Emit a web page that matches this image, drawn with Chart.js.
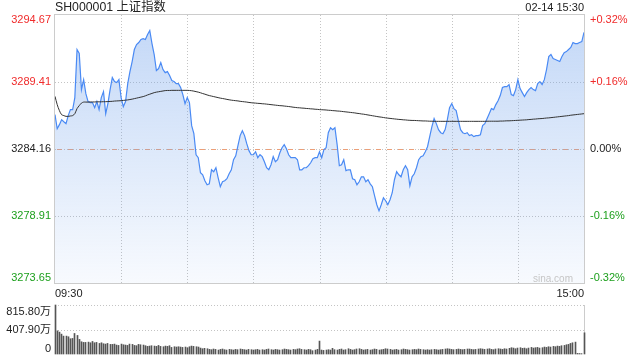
<!DOCTYPE html>
<html><head><meta charset="utf-8">
<script src="https://cdn.jsdelivr.net/npm/chart.js@4.4.1/dist/chart.umd.min.js"></script>
<style>
html,body{margin:0;padding:0;background:#fff;}
#wrap{position:relative;width:640px;height:360px;overflow:hidden;font-family:"Liberation Sans",Arial,"Noto Sans CJK SC",sans-serif;}
#title{position:absolute;left:55px;top:0px;font-size:12.3px;line-height:15px;color:#222;white-space:nowrap;}
#date{position:absolute;right:56px;top:1px;font-size:11px;line-height:13px;color:#222;white-space:nowrap;}
#c1{position:absolute;left:0;top:0;}
#c2{position:absolute;left:0;top:296px;}
</style></head><body>
<div id="wrap">
<canvas id="c1" width="640" height="300"></canvas>
<canvas id="c2" width="640" height="64"></canvas>
<div id="title">SH000001 上证指数</div>
<div id="date">02-14 15:30</div>
</div>
<script>
const priceTicks = [3294.67, 3289.41, 3284.16, 3278.91, 3273.65];
const pctLabels = ['+0.32%', '+0.16%', '0.00%', '-0.16%', '-0.32%'];
const xTickLabels = ['09:30', '15:00'];
const volTicks = [815.80, 407.90, 0];
const volLabels = ['815.80万', '407.90万', '0'];

const price = [
3286.85,3285.75,3286.07,3286.46,3286.30,3286.15,3286.78,3287.25,3287.25,3288.19,
3291.96,3291.65,3288.82,3289.60,3288.50,3287.88,3287.80,3287.80,3287.40,3287.88,
3287.25,3288.19,3288.66,3286.93,3287.72,3288.82,3289.76,3289.45,3289.37,3289.60,
3288.19,3287.48,3287.88,3289.29,3290.23,3291.02,3291.96,3292.35,3292.51,3292.75,
3292.82,3292.75,3293.14,3293.45,3292.43,3291.57,3290.31,3290.47,3290.94,3290.39,
3290.15,3290.23,3289.92,3289.53,3289.45,3289.29,3289.29,3288.98,3288.43,3287.72,
3288.19,3287.80,3285.99,3285.36,3283.71,3283.48,3282.30,3282.14,3281.67,3281.36,
3281.43,3282.53,3282.38,3282.69,3281.91,3281.20,3281.59,3281.67,3281.83,3282.22,
3282.53,3283.32,3283.63,3284.42,3285.21,3285.60,3285.21,3284.58,3284.03,3283.71,
3283.71,3283.95,3283.48,3283.71,3283.56,3283.16,3282.69,3282.53,3282.93,3283.56,
3283.16,3283.32,3283.87,3284.26,3284.50,3284.18,3283.71,3283.48,3283.48,3283.48,
3283.32,3282.53,3282.53,3282.69,3282.69,3282.85,3283.08,3283.40,3283.48,3283.48,
3283.95,3283.48,3284.11,3284.26,3285.44,3285.83,3285.68,3285.83,3284.50,3282.85,
3282.93,3283.32,3282.46,3282.53,3282.53,3281.83,3281.75,3281.36,3281.59,3281.98,
3281.98,3281.59,3281.75,3281.43,3281.20,3280.49,3279.79,3279.31,3279.79,3280.34,
3280.10,3279.79,3280.18,3280.73,3281.75,3282.38,3282.14,3281.98,3282.53,3282.85,
3282.53,3281.28,3281.98,3282.22,3282.69,3283.32,3283.56,3283.63,3283.95,3284.34,
3285.13,3285.91,3286.54,3286.15,3285.68,3285.44,3285.36,3285.68,3286.46,3287.40,
3287.72,3287.33,3287.17,3286.38,3285.68,3285.44,3285.36,3285.44,3285.21,3285.28,
3285.13,3285.21,3285.21,3285.28,3285.99,3286.15,3286.54,3286.93,3287.33,3287.25,
3287.64,3287.95,3288.35,3288.98,3289.05,3289.05,3289.21,3288.43,3288.35,3288.82,
3289.60,3288.90,3288.58,3288.27,3288.58,3288.82,3288.98,3288.82,3288.74,3289.29,
3289.45,3289.21,3289.60,3290.39,3291.41,3291.57,3291.25,3291.18,3291.10,3291.02,
3291.41,3291.72,3291.80,3291.96,3292.12,3292.51,3292.43,3292.43,3292.51,3292.59,
3293.30
];

const avgPrice = [
3288.29,3287.64,3287.17,3286.85,3286.78,3286.72,3286.72,3286.75,3286.78,3286.93,
3287.33,3287.56,3287.76,3287.84,3287.84,3287.84,3287.85,3287.85,3287.85,3287.86,
3287.86,3287.86,3287.87,3287.87,3287.88,3287.89,3287.90,3287.92,3287.93,3287.94,
3287.95,3287.97,3287.99,3288.01,3288.04,3288.07,3288.11,3288.15,3288.19,3288.23,
3288.27,3288.33,3288.40,3288.46,3288.52,3288.58,3288.62,3288.65,3288.68,3288.71,
3288.74,3288.75,3288.75,3288.76,3288.76,3288.76,3288.76,3288.76,3288.76,3288.76,
3288.76,3288.75,3288.73,3288.70,3288.66,3288.62,3288.57,3288.51,3288.46,3288.40,
3288.35,3288.31,3288.27,3288.23,3288.19,3288.15,3288.12,3288.09,3288.05,3288.02,
3287.99,3287.97,3287.95,3287.93,3287.90,3287.88,3287.86,3287.84,3287.81,3287.79,
3287.77,3287.76,3287.74,3287.73,3287.71,3287.70,3287.68,3287.66,3287.64,3287.62,
3287.60,3287.58,3287.56,3287.55,3287.53,3287.51,3287.49,3287.47,3287.44,3287.42,
3287.40,3287.39,3287.37,3287.36,3287.34,3287.33,3287.31,3287.30,3287.28,3287.27,
3287.25,3287.24,3287.23,3287.22,3287.20,3287.19,3287.17,3287.16,3287.14,3287.13,
3287.11,3287.09,3287.07,3287.05,3287.03,3287.01,3286.99,3286.96,3286.94,3286.91,
3286.89,3286.86,3286.83,3286.80,3286.77,3286.74,3286.71,3286.68,3286.66,3286.63,
3286.60,3286.58,3286.56,3286.54,3286.52,3286.50,3286.48,3286.47,3286.45,3286.44,
3286.42,3286.41,3286.40,3286.40,3286.39,3286.38,3286.37,3286.36,3286.36,3286.35,
3286.34,3286.34,3286.33,3286.33,3286.33,3286.33,3286.33,3286.33,3286.33,3286.33,
3286.33,3286.33,3286.33,3286.33,3286.33,3286.33,3286.33,3286.33,3286.33,3286.33,
3286.33,3286.33,3286.33,3286.33,3286.33,3286.33,3286.34,3286.34,3286.34,3286.34,
3286.34,3286.34,3286.35,3286.35,3286.36,3286.37,3286.37,3286.38,3286.39,3286.40,
3286.41,3286.42,3286.43,3286.44,3286.45,3286.47,3286.48,3286.50,3286.51,3286.53,
3286.54,3286.55,3286.57,3286.59,3286.60,3286.62,3286.64,3286.66,3286.68,3286.70,
3286.72,3286.74,3286.76,3286.78,3286.81,3286.83,3286.85,3286.87,3286.89,3286.91,
3286.93
];

const volume = [
815.8,386,364,331,298,298,287,254,259,342,
309,243,204,193,193,198,187,209,187,193,
176,187,171,165,176,160,160,165,149,143,
165,154,149,143,165,160,143,138,160,154,
149,138,127,132,138,132,127,143,127,121,
132,127,138,110,121,116,121,116,110,116,
105,121,132,127,121,116,99,88,94,88,
77,72,83,77,66,77,83,72,66,77,
72,66,77,72,83,77,72,66,77,72,
66,72,77,66,72,66,77,83,72,66,
77,72,66,72,83,77,72,66,77,72,
83,88,77,72,66,77,72,55,66,77,
215,66,60,66,72,66,94,72,66,77,
83,66,72,88,77,66,72,83,88,77,
66,72,77,66,72,83,77,66,72,77,
88,83,77,66,72,77,66,72,83,77,
72,66,72,77,72,83,77,72,66,72,
66,72,77,72,66,72,77,83,88,83,
77,72,77,83,77,72,77,83,83,77,
72,77,83,88,83,77,83,88,77,72,
83,88,83,77,88,83,94,105,99,88,
99,105,94,99,88,99,110,99,105,110,
99,105,116,110,121,116,127,121,132,127,
138,143,154,160,176,187,198,10,8,6,
353
];

// minute categories 09:30-11:30, 13:01-15:00
const times = [];
for (let i = 0; i < price.length; i++) {
  const m = i <= 120 ? 9 * 60 + 30 + i : 13 * 60 + (i - 120);
  times.push(String(Math.floor(m / 60)).padStart(2, '0') + ':' + String(m % 60).padStart(2, '0'));
}

const FONT = '11px "Liberation Sans", Arial, "Noto Sans CJK SC", sans-serif';
const RED = '#f02b2b', GREEN = '#1ea01e', DARK = '#222';
const preClose = priceTicks[2];
function tickColor(v) { return v > preClose ? RED : (v < preClose ? GREEN : DARK); }
function hline(ctx, x1, x2, y) { ctx.beginPath(); ctx.moveTo(x1, y); ctx.lineTo(x2, y); ctx.stroke(); }
function vline(ctx, x, y1, y2) { ctx.beginPath(); ctx.moveTo(x, y1); ctx.lineTo(x, y2); ctx.stroke(); }

const topDeco = {
  id: 'topDeco',
  beforeDatasetsDraw(chart) {
    const { ctx, chartArea: a, scales: { x, y } } = chart;
    ctx.save();
    ctx.lineWidth = 1;
    ctx.strokeStyle = '#c4c4c4';
    ctx.setLineDash([1, 2]);
    for (let i = 30; i < 240; i += 30) {
      const px = Math.round(x.getPixelForValue(i)) + 0.5;
      vline(ctx, px, a.top, a.bottom);
    }
    [priceTicks[1], priceTicks[2], priceTicks[3]].forEach(v => {
      const py = Math.round(y.getPixelForValue(v)) + 0.5;
      hline(ctx, a.left, a.right, py);
    });
    const pz = Math.round(y.getPixelForValue(preClose)) + 0.5;
    ctx.setLineDash([5, 6]);
    ctx.strokeStyle = '#ec9f78';
    hline(ctx, a.left + 2, a.right, pz);
    ctx.restore();
  },
  afterDatasetsDraw(chart) {
    const { ctx, chartArea: a, scales: { x, y } } = chart;
    ctx.save();
    ctx.strokeStyle = '#cccccc';
    ctx.lineWidth = 1;
    ctx.strokeRect(Math.round(a.left) - 0.5, Math.round(a.top) - 0.5, Math.round(a.right - a.left) + 1, Math.round(a.bottom - a.top) + 1);
    ctx.font = FONT;
    ctx.textBaseline = 'middle';
    priceTicks.forEach((v, k) => {
      let py = y.getPixelForValue(v);
      py = Math.min(Math.max(py, a.top + 5), a.bottom - 5);
      ctx.fillStyle = tickColor(v);
      ctx.textAlign = 'right';
      ctx.fillText(v.toFixed(2), a.left - 4, py);
      ctx.textAlign = 'left';
      ctx.fillText(pctLabels[k], a.right + 6, py);
    });
    ctx.fillStyle = DARK;
    ctx.textAlign = 'left';
    ctx.fillText(xTickLabels[0], x.getPixelForValue(0), a.bottom + 11);
    ctx.textAlign = 'right';
    ctx.fillText(xTickLabels[1], x.getPixelForValue(price.length - 1), a.bottom + 11);
    ctx.font = '10px "Liberation Sans", Arial, sans-serif';
    ctx.fillStyle = '#c6c6c6';
    ctx.fillText('sina.com', a.right - 11, a.bottom - 4);
    ctx.restore();
  }
};

const volDeco = {
  id: 'volDeco',
  beforeDatasetsDraw(chart) {
    const { ctx, chartArea: a, scales: { y } } = chart;
    // snap the library-positioned 1px bars onto whole pixels so they stay crisp
    chart.getDatasetMeta(0).data.forEach(el => { el.x = Math.floor(el.x) + 0.5; });
    ctx.save();
    ctx.lineWidth = 1;
    ctx.strokeStyle = '#c4c4c4';
    ctx.setLineDash([1, 2]);
    [volTicks[0], volTicks[1]].forEach(v => {
      const py = Math.round(y.getPixelForValue(v)) + 0.5;
      hline(ctx, a.left, a.right, py);
    });
    ctx.setLineDash([]);
    ctx.strokeStyle = '#cccccc';
    vline(ctx, Math.round(a.right) + 0.5, a.top, a.bottom);
    ctx.restore();
  },
  afterDatasetsDraw(chart) {
    const { ctx, chartArea: a, scales: { y } } = chart;
    ctx.save();
    ctx.font = FONT;
    ctx.textBaseline = 'middle';
    ctx.textAlign = 'right';
    ctx.fillStyle = DARK;
    volTicks.forEach((v, k) => {
      let py = y.getPixelForValue(v);
      py = Math.min(Math.max(py, a.top + 7), a.bottom - 5);
      ctx.fillText(volLabels[k], a.left - 4, py);
    });
    ctx.restore();
  }
};

function fillGradient(context) {
  const chart = context.chart;
  const a = chart.chartArea;
  if (!a) return 'rgba(120,165,235,0.25)';
  const g = chart.ctx.createLinearGradient(0, a.top, 0, a.bottom);
  g.addColorStop(0, 'rgba(110,160,235,0.42)');
  g.addColorStop(1, 'rgba(110,160,235,0.05)');
  return g;
}

new Chart(document.getElementById('c1'), {
  type: 'line',
  data: {
    labels: times,
    datasets: [
      { data: avgPrice, borderColor: '#333333', borderWidth: 1, pointRadius: 0, fill: false, tension: 0.3, order: 0 },
      { data: price, borderColor: '#4a8af4', borderWidth: 1.2, pointRadius: 0, fill: 'start', backgroundColor: fillGradient, tension: 0, order: 1 }
    ]
  },
  options: {
    responsive: false, animation: false, events: [],
    layout: { padding: { left: 55, right: 56, top: 15, bottom: 17 } },
    plugins: { legend: { display: false }, tooltip: { enabled: false } },
    scales: {
      x: { type: 'category', display: false, offset: false },
      y: { display: false, min: priceTicks[4], max: priceTicks[0] }
    }
  },
  plugins: [topDeco]
});

new Chart(document.getElementById('c2'), {
  type: 'bar',
  data: {
    labels: times,
    datasets: [{ data: volume, backgroundColor: '#555555', barThickness: 1, clip: false }]
  },
  options: {
    responsive: false, animation: false, events: [],
    layout: { padding: { left: 55, right: 56, top: 9, bottom: 6 } },
    plugins: { legend: { display: false }, tooltip: { enabled: false } },
    scales: {
      x: { type: 'category', display: false, offset: false },
      y: { display: false, min: 0, max: volTicks[0] }
    }
  },
  plugins: [volDeco]
});
</script>
</body></html>
